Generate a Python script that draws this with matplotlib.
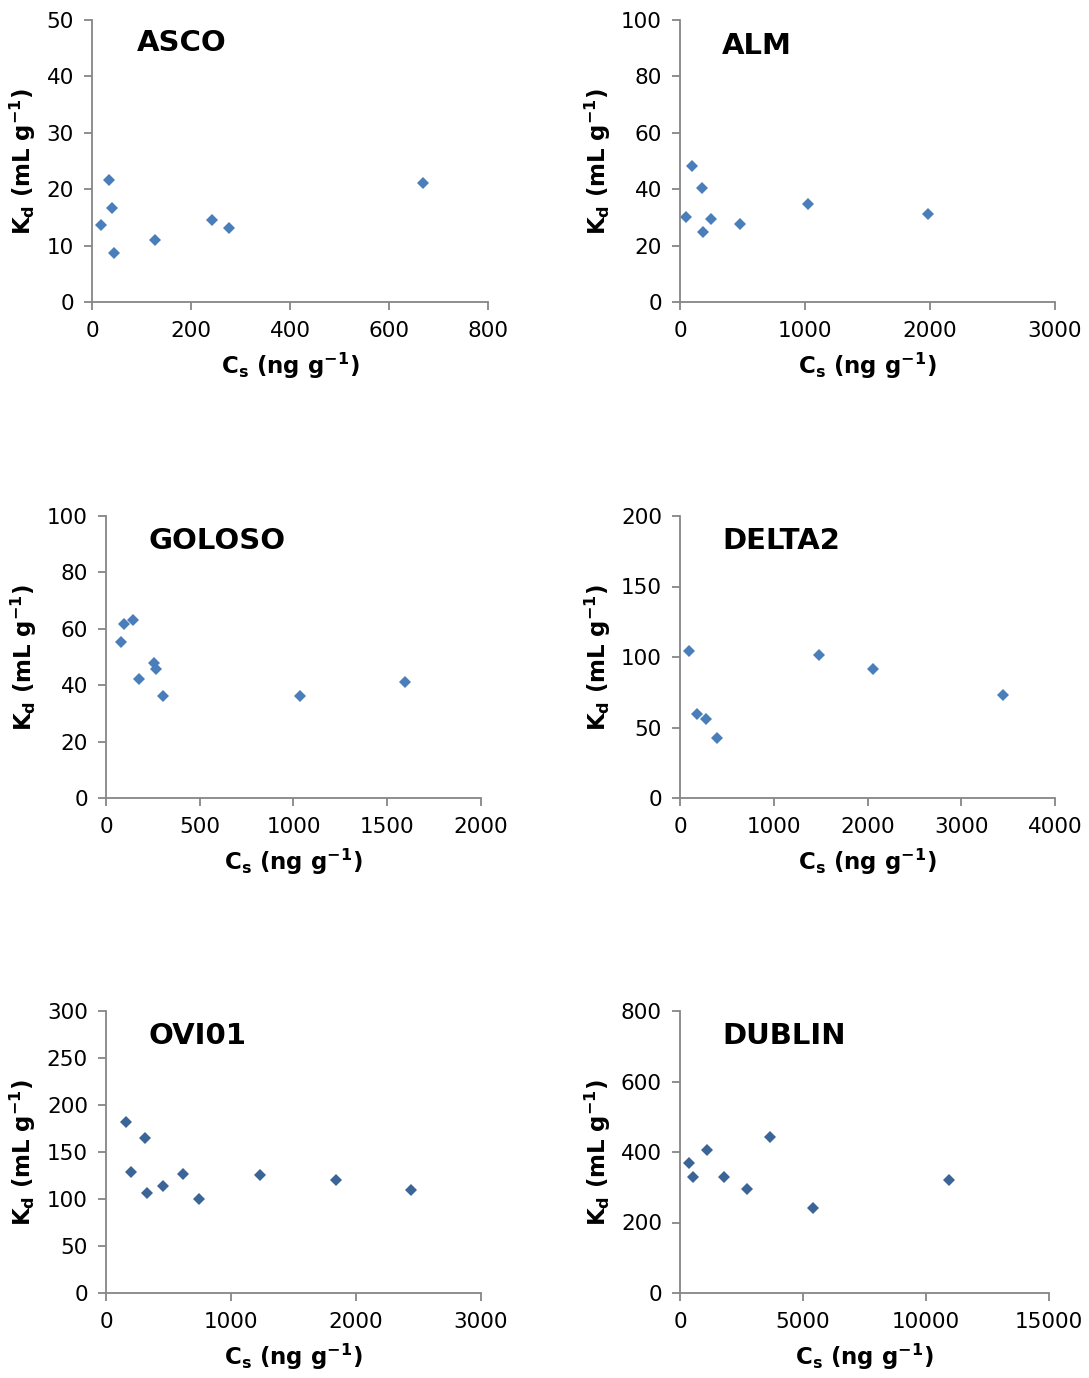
import matplotlib
matplotlib.use("Agg")
import matplotlib.pyplot as plt

plt.rcParams['font.family'] = ['DejaVu Sans']
plt.rcParams['mathtext.fontset'] = 'custom'
plt.rcParams['mathtext.bf'] = 'DejaVu Sans:bold'
plt.rcParams['mathtext.rm'] = 'DejaVu Sans:bold'
plt.rcParams['mathtext.default'] = 'bf'

# Sorption data: soil concentration Cs (ng/g) vs distribution coefficient Kd (mL/g)
asco_cs = [18.8, 33.6, 41, 45, 126.5, 243, 277, 668]
asco_kd = [13.7, 21.7, 16.6, 8.6, 11.0, 14.5, 13.2, 21.1]

alm_cs = [48, 96, 173, 187, 245, 480, 1021, 1987]
alm_kd = [30.1, 48.3, 40.3, 24.9, 29.6, 27.6, 34.9, 31.3]

goloso_cs = [82, 98, 142, 174, 254, 268, 302, 1036, 1596]
goloso_kd = [55.2, 61.6, 63.1, 42.3, 47.9, 45.6, 36.2, 36.2, 41.3]

delta2_cs = [100, 178, 274, 395, 1486, 2059, 3445]
delta2_kd = [104, 59.3, 56.0, 42.8, 101.4, 91.5, 72.8]

ovi01_cs = [157, 200, 312, 328, 459, 616, 747, 1235, 1837, 2443]
ovi01_kd = [181.6, 128.7, 164.5, 106.0, 114.2, 126.6, 99.6, 125.5, 120.2, 109.2]

dublin_cs = [352, 542, 1084, 1802, 2724, 3659, 5407, 10921]
dublin_kd = [370, 329.6, 405, 327.7, 295.6, 443, 241.8, 321]

soils = ["ASCO", "ALM", "GOLOSO", "DELTA2", "OVI01", "DUBLIN"]
xmax = [800, 3000, 2000, 4000, 3000, 15000]
xstep = [200, 1000, 500, 1000, 1000, 5000]
ymax = [50, 100, 100, 200, 300, 800]
ystep = [10, 20, 20, 50, 50, 200]
series = [(asco_cs, asco_kd), (alm_cs, alm_kd), (goloso_cs, goloso_kd),
          (delta2_cs, delta2_kd), (ovi01_cs, ovi01_kd), (dublin_cs, dublin_kd)]
colors = ["#4A7EBB", "#4A7EBB", "#4A7EBB", "#4A7EBB", "#3B6597", "#3B6597"]

W, H = 1089, 1378
fig = plt.figure(figsize=(W / 100, H / 100), dpi=100)

# panel boxes in pixels: left, right, top, bottom
boxes = [(92, 488, 20, 302), (680, 1055, 20, 302),
         (106, 481, 516, 798), (680, 1055, 516, 798),
         (106, 481, 1011, 1293), (680, 1049, 1011, 1293)]
title_xy = [(137, 43), (722, 46), (148, 541), (722, 541), (148, 1036), (722, 1036)]

axis_grey = "#868686"

for i, name in enumerate(soils):
    l, r, t, b = boxes[i]
    ax = fig.add_axes([l / W, 1 - b / H, (r - l) / W, (b - t) / H])
    cs, kd = series[i]
    ax.plot(cs, kd, linestyle="none", marker="D", markersize=6.3,
            color=colors[i], markeredgewidth=0, clip_on=False)
    ax.set_xlim(0, xmax[i])
    ax.set_ylim(0, ymax[i])
    ax.set_xticks(range(0, xmax[i] + 1, xstep[i]))
    ax.set_yticks(range(0, ymax[i] + 1, ystep[i]))
    for side in ["top", "right"]:
        ax.spines[side].set_visible(False)
    for side in ["left", "bottom"]:
        ax.spines[side].set_color(axis_grey)
        ax.spines[side].set_linewidth(1.3)
    ax.tick_params(axis="both", direction="out", length=6, width=1.3,
                   color=axis_grey, labelsize=15.5, labelcolor="black")
    ax.tick_params(axis="x", pad=8)
    ax.tick_params(axis="y", pad=7)
    ax.set_xlabel("C$_s$ (ng g$^{-1}$)", fontsize=16.5, fontweight="bold", labelpad=7)
    ax.set_ylabel("K$_d$ (mL g$^{-1}$)", fontsize=16.5, fontweight="bold", labelpad=6)
    tx, ty = title_xy[i]
    fig.text(tx / W, 1 - ty / H, name, fontsize=21, fontweight="bold",
             ha="left", va="center")

fig.savefig("out.png", dpi=100)
